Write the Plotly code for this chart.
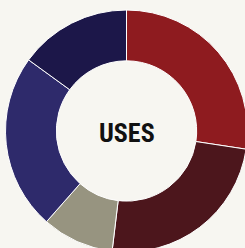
import plotly.graph_objects as go

labels = ["Red", "Maroon", "Gray", "Blue", "Navy"]
values = [27.4, 24.5, 9.6, 23.5, 15.0]
colors = ["#8e1b1f", "#4c161c", "#979480", "#2e2a6b", "#1c1749"]
center_text = "USES"

BG = "#f7f6f1"
W, H = 248, 252

fig = go.Figure(go.Pie(
    labels=labels,
    values=values,
    hole=0.58,
    sort=False,
    direction="clockwise",
    rotation=0,
    marker=dict(colors=colors, line=dict(color="#ffffff", width=1)),
    textinfo="none",
    hoverinfo="label+percent",
    domain=dict(x=[5.5 / W, 247.5 / W], y=[0, (H - 10) / H]),
    showlegend=False,
))

fig.add_annotation(
    text="<b>" + center_text + "</b>",
    x=126.5 / W, y=(H - 132.5) / H, xref="paper", yref="paper",
    showarrow=False,
    font=dict(family="Roboto Condensed, Liberation Sans", size=26, color="#111111"),
)

fig.update_layout(
    width=W, height=H,
    margin=dict(l=0, r=0, t=0, b=0),
    paper_bgcolor=BG,
    plot_bgcolor=BG,
)

fig.write_html(
    "out.html",
    config={"displayModeBar": False},
    post_script="document.body.style.margin='0';document.body.style.overflow='hidden';document.documentElement.style.overflow='hidden';document.documentElement.style.background='" + BG + "';",
)
